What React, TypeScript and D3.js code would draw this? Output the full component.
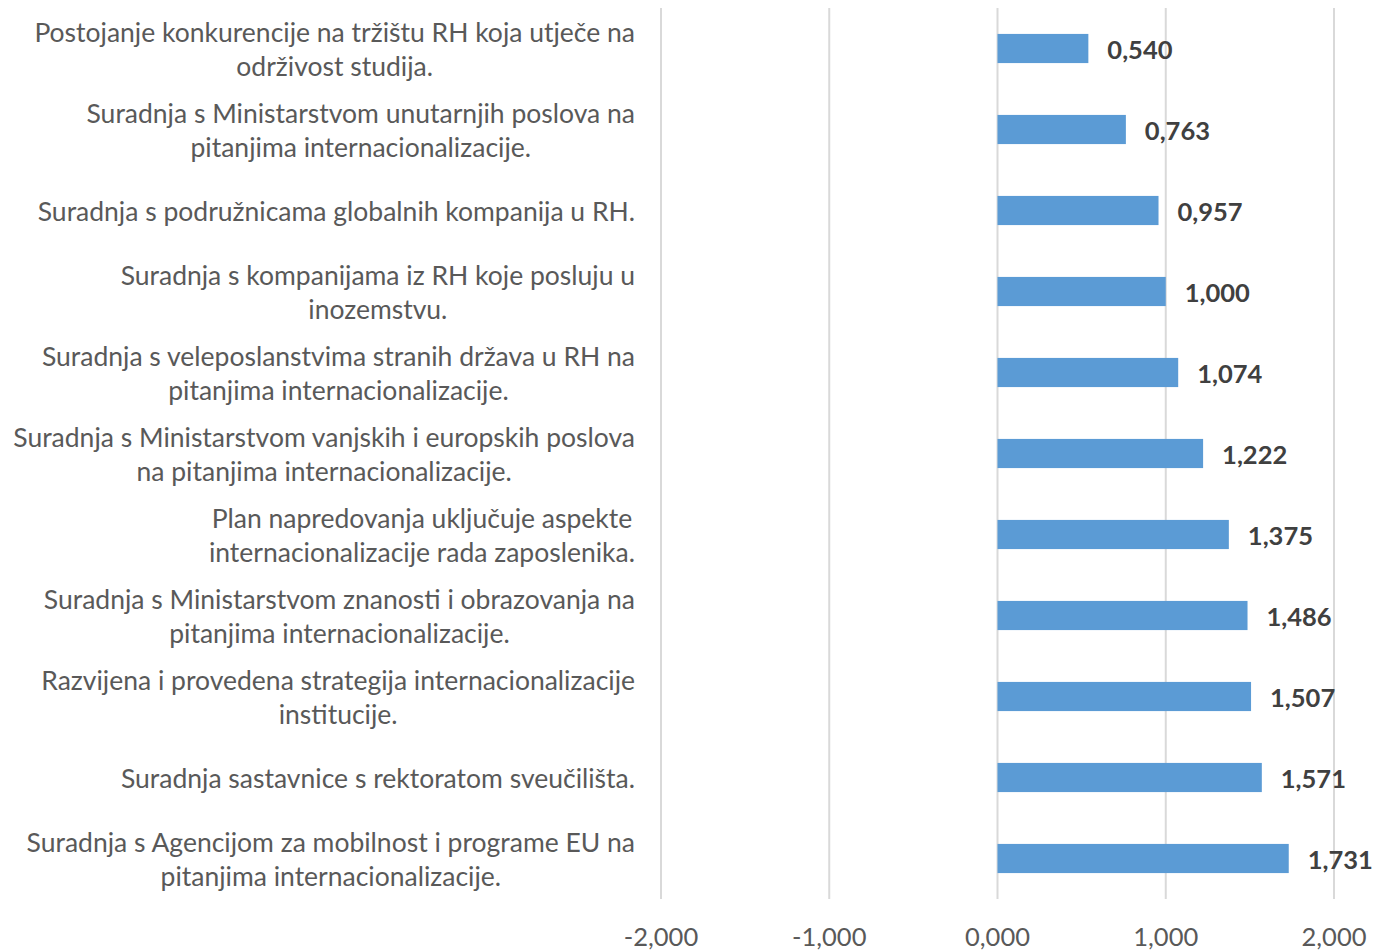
import { useEffect, useRef } from 'react';
import * as d3 from 'd3';

const WIDTH = 1376;
const HEIGHT = 950;
const FONT = 'Lato, "Open Sans", sans-serif';

// category labels, wrapped the way the reference shows them
const categories = [
    ['Postojanje konkurencije na tržištu RH koja utječe na', 'održivost studija.'],
    ['Suradnja s Ministarstvom unutarnjih poslova na', 'pitanjima internacionalizacije.'],
    ['Suradnja s podružnicama globalnih kompanija u RH.'],
    ['Suradnja s kompanijama iz RH koje posluju u', 'inozemstvu.'],
    ['Suradnja s veleposlanstvima stranih država u RH na', 'pitanjima internacionalizacije.'],
    ['Suradnja s Ministarstvom vanjskih i europskih poslova', 'na pitanjima internacionalizacije.'],
    ['Plan napredovanja uključuje aspekte', 'internacionalizacije rada zaposlenika.'],
    ['Suradnja s Ministarstvom znanosti i obrazovanja na', 'pitanjima internacionalizacije.'],
    ['Razvijena i provedena strategija internacionalizacije', 'institucije.'],
    ['Suradnja sastavnice s rektoratom sveučilišta.'],
    ['Suradnja s Agencijom za mobilnost i programe EU na', 'pitanjima internacionalizacije.'],
];

const values = [0.54, 0.763, 0.957, 1.0, 1.074, 1.222, 1.375, 1.486, 1.507, 1.571, 1.731];

const xTicks = [-2, -1, 0, 1, 2];

const fmt = (v: number) => d3.format('.3f')(v).replace('.', ',').replace('−', '-');

const App = () => {
    const ref = useRef<SVGSVGElement>(null);

    useEffect(() => {
        document.body.style.margin = '0';
        const svg = d3.select(ref.current);
        svg.selectAll('*').remove();

        const ids = categories.map((_, i) => String(i));
        const x = d3.scaleLinear().domain([-2, 2]).range([661, 1334]);
        const y = d3.scaleBand().domain(ids).range([8, 899]).paddingInner(0.64).paddingOuter(0.32);

        // gridlines
        svg.append('g')
            .selectAll('line')
            .data(xTicks)
            .join('line')
            .attr('x1', (d) => x(d))
            .attr('x2', (d) => x(d))
            .attr('y1', 8)
            .attr('y2', 899)
            .attr('stroke', '#d9d9d9')
            .attr('stroke-width', 2);

        // bars
        svg.append('g')
            .selectAll('rect')
            .data(values)
            .join('rect')
            .attr('x', x(0))
            .attr('y', (_, i) => y(ids[i])!)
            .attr('width', (d) => x(d) - x(0))
            .attr('height', y.bandwidth())
            .attr('fill', '#5b9bd5');

        // value labels
        svg.append('g')
            .selectAll('text')
            .data(values)
            .join('text')
            .attr('x', (d) => x(d) + 19)
            .attr('y', (_, i) => y(ids[i])! + y.bandwidth() / 2)
            .attr('dominant-baseline', 'central')
            .attr('font-family', FONT)
            .attr('font-weight', 'bold')
            .attr('font-size', 25.5)
            .attr('fill', '#404040')
            .text((d) => fmt(d));

        // x tick labels
        svg.append('g')
            .selectAll('text')
            .data(xTicks)
            .join('text')
            .attr('x', (d) => x(d))
            .attr('y', 936)
            .attr('text-anchor', 'middle')
            .attr('dominant-baseline', 'central')
            .attr('font-family', FONT)
            .attr('font-size', 25.5)
            .attr('fill', '#595959')
            .text((d) => fmt(d));

        // category labels: lines centred inside a block right-aligned at 635
        const labels = svg.append('g')
            .attr('font-family', FONT)
            .attr('font-size', 26.5)
            .attr('fill', '#595959');
        categories.forEach((lines, i) => {
            const cy = y(ids[i])! + y.bandwidth() / 2;
            const g = labels.append('g');
            const texts = lines.map((line, j) =>
                g.append('text')
                    .attr('y', cy + (j - (lines.length - 1) / 2) * 34)
                    .attr('dominant-baseline', 'central')
                    .attr('text-anchor', 'middle')
                    .text(line)
            );
            const maxW = d3.max(texts, (t) => (t.node() as SVGTextElement).getComputedTextLength()) || 0;
            texts.forEach((t) => t.attr('x', 635 - maxW / 2));
        });
    }, []);

    return <svg ref={ref} width={WIDTH} height={HEIGHT} style={{ display: 'block', background: '#fff' }} />;
};

export default App;
